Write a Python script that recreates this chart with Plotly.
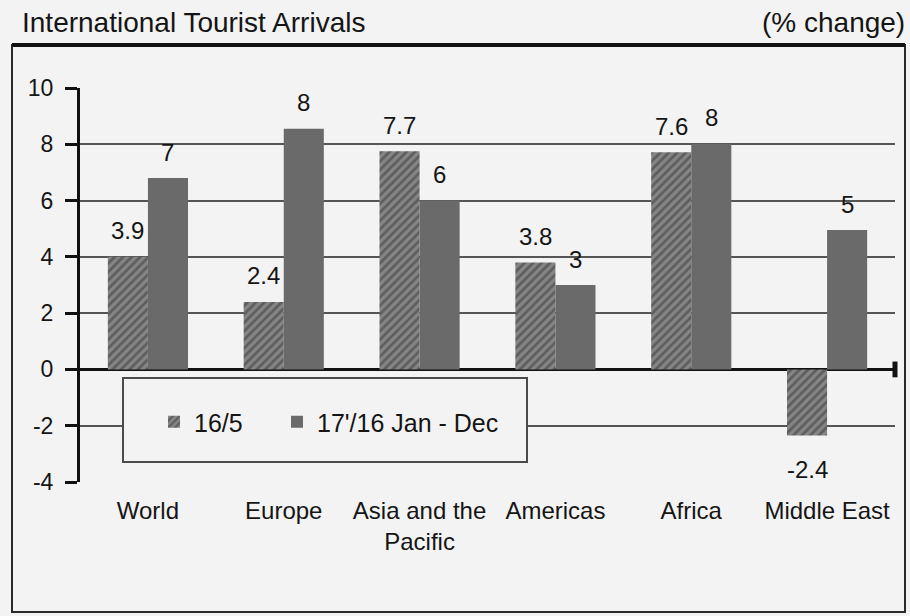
import plotly.graph_objects as go

categories = ["World", "Europe", "Asia and the<br>Pacific", "Americas", "Africa", "Middle East"]
series_names = ["16/5", "17'/16 Jan - Dec"]
values_16 = [4.0, 2.4, 7.75, 3.8, 7.72, -2.35]
values_17 = [6.8, 8.55, 6.0, 3.0, 8.02, 4.95]
labels_16 = ["3.9", "2.4", "7.7", "3.8", "7.6", "-2.4"]
labels_17 = ["7", "8", "6", "3", "8", "5"]
y_ticks = [-4, -2, 0, 2, 4, 6, 8, 10]
y_tick_text = ["-4", "-2", "0", "2", "4", "6", "8", "10"]

BG = "#f3f3f3"
INK = "#151515"
FONT = "Liberation Sans, Arial, sans-serif"

fig = go.Figure()
fig.add_trace(go.Bar(
    name=series_names[0], x=categories, y=values_16, legend="legend",
    marker=dict(color="#808080", line=dict(width=0),
                pattern=dict(shape="/", fgcolor="#363636", bgcolor="#858585",
                             size=6, solidity=0.45)),
))
fig.add_trace(go.Bar(
    name=series_names[1], x=categories, y=values_17, legend="legend2",
    marker=dict(color="#6a6a6a", line=dict(width=0)),
))

annotations = []
for i, c in enumerate(categories):
    v = values_16[i]
    annotations.append(dict(x=c, y=v, xref="x", yref="y", text=labels_16[i],
                            showarrow=False, xshift=-20,
                            yshift=26 if v >= 0 else -34,
                            font=dict(size=24, color=INK, family=FONT)))
    v2 = values_17[i]
    annotations.append(dict(x=c, y=v2, xref="x", yref="y", text=labels_17[i],
                            showarrow=False, xshift=20, yshift=26,
                            font=dict(size=24, color=INK, family=FONT)))

annotations.append(dict(x=(20 - 80) / 815, y=(482 - 22) / 394, xref="paper", yref="paper",
                        xanchor="left", yanchor="middle", showarrow=False,
                        text="International Tourist Arrivals",
                        font=dict(size=28, color=INK, family=FONT)))
annotations.append(dict(x=(907 - 80) / 815, y=(482 - 22) / 394, xref="paper", yref="paper",
                        xanchor="right", yanchor="middle", showarrow=False,
                        text="(% change)",
                        font=dict(size=28, color=INK, family=FONT)))

shapes = [
    # outer frame
    dict(type="rect", xref="paper", yref="paper",
         x0=(12 - 80) / 815, x1=(905 - 80) / 815,
         y0=(482 - 612) / 394, y1=(482 - 45) / 394,
         line=dict(color="#2a2a2a", width=2), layer="below"),
    dict(type="line", xref="paper", yref="paper",
         x0=(12 - 80) / 815, x1=(905 - 80) / 815,
         y0=(482 - 45) / 394, y1=(482 - 45) / 394,
         line=dict(color="#111111", width=4)),
    # legend box
    dict(type="rect", xref="paper", yref="paper",
         x0=(123 - 80) / 815, x1=(527 - 80) / 815,
         y0=(482 - 462) / 394, y1=(482 - 378) / 394,
         fillcolor=BG, line=dict(color="#4a4a4a", width=2), layer="above"),
    # end cap of the zero line
    dict(type="line", xref="paper", yref="y", x0=1, x1=1, y0=-0.28, y1=0.28,
         line=dict(color="#111111", width=5)),
]

legend_common = dict(orientation="h", xanchor="left", yanchor="middle",
                     bgcolor="rgba(0,0,0,0)", borderwidth=0,
                     font=dict(size=25, color=INK, family=FONT))

fig.update_layout(
    width=910, height=616,
    margin=dict(l=80, r=15, t=88, b=134),
    paper_bgcolor=BG, plot_bgcolor=BG,
    barmode="group", bargap=0.41, bargroupgap=0,
    font=dict(family=FONT, color=INK),
    showlegend=True,
    legend=dict(x=(154 - 80) / 815, y=(482 - 422) / 394, **legend_common),
    legend2=dict(x=(277 - 80) / 815, y=(482 - 422) / 394, **legend_common),
    annotations=annotations,
    shapes=shapes,
)
fig.update_xaxes(
    type="category", showgrid=False, showline=False, zeroline=False,
    ticks="", tickfont=dict(size=24, color=INK, family=FONT),
    ticklabelstandoff=12,
)
fig.update_yaxes(
    range=[-4, 10], tickvals=y_ticks, ticktext=y_tick_text, showgrid=True,
    gridcolor="#555555", gridwidth=1.5,
    zeroline=True, zerolinecolor="#111111", zerolinewidth=3,
    showline=True, linecolor="#111111", linewidth=3,
    ticks="outside", ticklen=12, tickwidth=3, tickcolor="#111111",
    ticklabelstandoff=7,
    tickfont=dict(size=23, color=INK, family=FONT),
)

fig.write_html("out.html")
